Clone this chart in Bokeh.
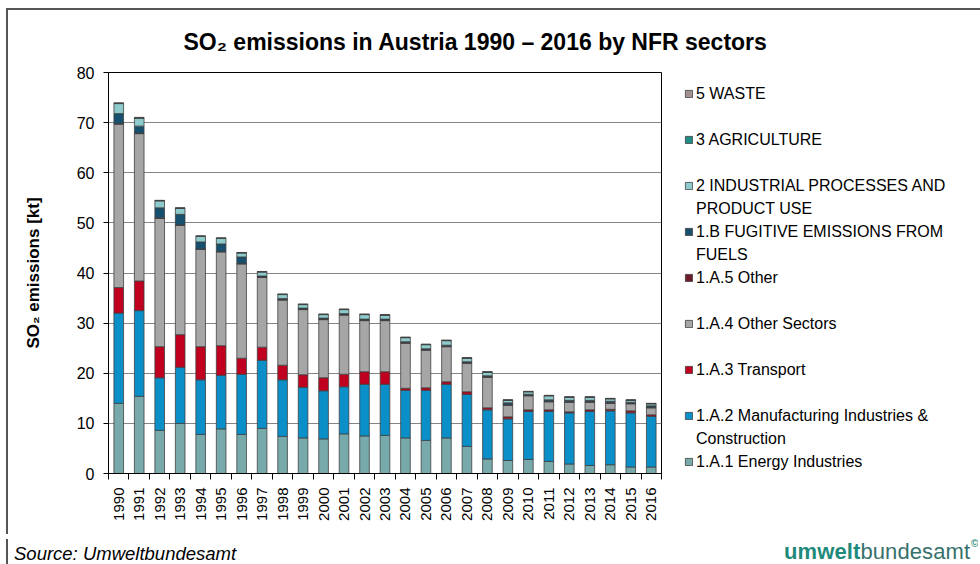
import math
from bokeh.plotting import figure
from bokeh.layouts import column
from bokeh.models import FixedTicker, Legend, LegendItem, Div, ColumnDataSource, Range1d
from bokeh.embed import file_html
from bokeh.resources import INLINE

years = list(range(1990, 2017))
year_labels = [str(y) for y in years]
y_ticks = [0, 10, 20, 30, 40, 50, 60, 70, 80]

energy = [14.0, 15.4, 8.6, 10.0, 7.8, 8.9, 7.8, 9.0, 7.4, 7.1, 6.9, 7.9, 7.5, 7.6, 7.1, 6.6, 7.1, 5.4, 2.9, 2.6, 2.8, 2.4, 1.9, 1.6, 1.75, 1.3, 1.3]
manufacturing = [18.0, 17.1, 10.5, 11.2, 10.9, 10.7, 12.0, 13.6, 11.3, 10.1, 9.6, 9.4, 10.3, 10.2, 9.5, 10.0, 10.7, 10.4, 9.8, 8.3, 9.6, 10.0, 10.2, 10.8, 10.75, 10.8, 10.1]
transport = [5.1, 5.9, 6.2, 6.5, 6.6, 5.9, 3.2, 2.6, 2.9, 2.5, 2.6, 2.5, 2.5, 2.5, 0.4, 0.5, 0.5, 0.5, 0.4, 0.4, 0.3, 0.3, 0.2, 0.3, 0.3, 0.4, 0.3]
other_sectors = [32.6, 29.4, 25.6, 21.8, 19.4, 18.7, 18.8, 13.9, 13.0, 13.0, 11.6, 11.8, 10.2, 10.2, 9.0, 7.5, 7.0, 5.7, 6.1, 2.3, 2.8, 1.6, 1.9, 1.5, 1.2, 1.4, 1.4]
other_1a5 = [0.1, 0.1, 0.1, 0.1, 0.1, 0.1, 0.1, 0.1, 0.1, 0.1, 0.1, 0.1, 0.1, 0.1, 0.1, 0.1, 0.1, 0.1, 0.1, 0.1, 0.1, 0.1, 0.1, 0.1, 0.1, 0.1, 0.1]
fugitive = [2.0, 1.4, 2.0, 2.1, 1.4, 1.5, 1.3, 0.2, 0.2, 0.2, 0.2, 0.2, 0.2, 0.2, 0.2, 0.2, 0.2, 0.2, 0.2, 0.4, 0.2, 0.3, 0.3, 0.3, 0.3, 0.2, 0.3]
industrial = [2.0, 1.6, 1.4, 1.2, 1.1, 1.1, 0.8, 0.8, 0.8, 0.7, 0.7, 0.8, 0.9, 0.8, 0.8, 0.8, 0.9, 0.7, 0.7, 0.5, 0.5, 0.8, 0.6, 0.6, 0.5, 0.4, 0.4]
agriculture = [0.05, 0.05, 0.05, 0.05, 0.05, 0.05, 0.05, 0.05, 0.05, 0.05, 0.05, 0.05, 0.05, 0.05, 0.05, 0.05, 0.05, 0.05, 0.05, 0.05, 0.05, 0.05, 0.05, 0.05, 0.05, 0.05, 0.05]
waste = [0.1, 0.1, 0.05, 0.05, 0.05, 0.05, 0.05, 0.05, 0.05, 0.05, 0.05, 0.05, 0.05, 0.05, 0.05, 0.05, 0.05, 0.05, 0.05, 0.05, 0.05, 0.05, 0.05, 0.05, 0.05, 0.05, 0.05]

# stacking order, bottom to top
keys = ["energy", "manufacturing", "transport", "other_sectors", "other_1a5",
        "fugitive", "industrial", "agriculture", "waste"]
legend_lines = [["1.A.1 Energy Industries"],
                ["1.A.2 Manufacturing Industries &", "Construction"],
                ["1.A.3 Transport"],
                ["1.A.4 Other Sectors"],
                ["1.A.5 Other"],
                ["1.B FUGITIVE EMISSIONS FROM", "FUELS"],
                ["2 INDUSTRIAL PROCESSES AND", "PRODUCT USE"],
                ["3 AGRICULTURE"],
                ["5 WASTE"]]
colors = ["#78aaab", "#0a8fc8", "#c0001e", "#a6a6a6", "#6c1a2a",
          "#174f6e", "#8ecbcc", "#1f8c85", "#a39090"]

source = ColumnDataSource(data=dict(
    year=years, energy=energy, manufacturing=manufacturing, transport=transport,
    other_1a5=other_1a5, other_sectors=other_sectors, fugitive=fugitive,
    industrial=industrial, agriculture=agriculture, waste=waste))

FONT = "Liberation Sans"

p = figure(frame_width=551, frame_height=399, output_backend="svg", toolbar_location=None,
           x_range=Range1d(years[0] - 0.5, years[-1] + 0.5), y_range=Range1d(0, 80),
           min_border_left=100, min_border_right=321, min_border_top=62, min_border_bottom=63,
           styles={"margin-left": "6px", "margin-top": "8px",
                   "border-left": "2px solid #555555", "border-top": "2px solid #555555"})

renderers = p.vbar_stack(keys, x="year", width=0.47, source=source, color=colors,
                         line_color="#404040", line_width=0.8)
blank = p.vbar(x=[], top=[], width=0.5, fill_alpha=0, line_alpha=0)

p.outline_line_color = "black"
p.outline_line_width = 1
p.background_fill_color = "white"
p.border_fill_color = "white"

p.xgrid.grid_line_color = None
p.ygrid.grid_line_color = "#858585"
p.ygrid.grid_line_width = 1

p.yaxis.ticker = FixedTicker(ticks=y_ticks)
p.yaxis.minor_tick_line_color = None
p.yaxis.major_tick_in = 0
p.yaxis.major_tick_out = 5
p.yaxis.axis_line_color = "black"
p.yaxis.major_tick_line_color = "black"
p.yaxis.major_label_text_font = FONT
p.yaxis.major_label_text_font_size = "16px"
p.yaxis.major_label_text_color = "black"
p.yaxis.major_label_standoff = 9
p.yaxis.axis_label = "SO\u2082 emissions [kt]"
p.yaxis.axis_label_text_font = FONT
p.yaxis.axis_label_text_font_size = "17px"
p.yaxis.axis_label_text_font_style = "bold"
p.yaxis.axis_label_text_color = "black"
p.yaxis.axis_label_standoff = 31

boundaries = [y - 0.5 for y in years] + [years[-1] + 0.5]
p.xaxis.ticker = FixedTicker(ticks=years, minor_ticks=boundaries)
p.xaxis.major_label_overrides = {y: l for y, l in zip(years, year_labels)}
p.xaxis.major_tick_out = 0
p.xaxis.major_tick_in = 0
p.xaxis.minor_tick_out = 6
p.xaxis.minor_tick_in = 0
p.xaxis.minor_tick_line_color = "black"
p.xaxis.axis_line_color = "black"
p.xaxis.major_label_orientation = math.pi / 2
p.xaxis.major_label_text_font = FONT
p.xaxis.major_label_text_font_size = "15px"
p.xaxis.major_label_text_color = "black"
p.xaxis.major_label_standoff = 8

p.title.text = "SO\u2082 emissions in Austria 1990 \u2013 2016 by NFR sectors"
p.title.text_font = FONT
p.title.text_font_size = "23px"
p.title.text_font_style = "bold"
p.title.text_color = "black"
p.title.align = "left"
p.title.vertical_align = "top"
p.title.offset = 75
p.title.standoff = 32

# legend: two rows per entry (second row holds the wrapped part of a long label)
items = []
entries = list(zip(legend_lines[::-1], renderers[::-1]))
for n, (lines, r) in enumerate(entries):
    items.append(LegendItem(label=lines[0], renderers=[r]))
    if n < len(entries) - 1:
        items.append(LegendItem(label=lines[1] if len(lines) > 1 else " ", renderers=[blank]))
legend = Legend(items=items, location=(23, 0), ncols=1,
                margin=0, padding=0, spacing=0, label_height=23,
                glyph_width=9, glyph_height=9, label_standoff=3,
                label_text_font=FONT, label_text_font_size="16px",
                label_text_color="black", border_line_color=None,
                background_fill_alpha=0, inactive_fill_alpha=0)
p.add_layout(legend, "right")

footer_html = (
    '<div style="position:relative;width:972px;height:30px;font-family:\'Liberation Sans\',sans-serif;line-height:1;">'
    '<span style="position:absolute;left:6px;top:6px;font-size:18.5px;font-style:italic;color:#000;white-space:nowrap;">'
    'Source: Umweltbundesamt</span>'
    '<span style="position:absolute;left:776px;top:2px;font-size:22px;letter-spacing:0.1px;white-space:nowrap;">'
    '<b style="color:#1f8a7c;">umwelt</b><span style="color:#36716d;">bundesamt</span></span>'
    '<span style="position:absolute;left:963px;top:0px;font-size:10px;font-weight:bold;color:#1f8a7c;">\u00a9</span>'
    '</div>')
footer = Div(text=footer_html, width=972, height=30,
             styles={"margin-left": "6px", "border-left": "2px solid #555555", "overflow": "hidden"})

layout = column(p, footer, spacing=0)
open("out.html", "w").write(file_html(layout, INLINE))
